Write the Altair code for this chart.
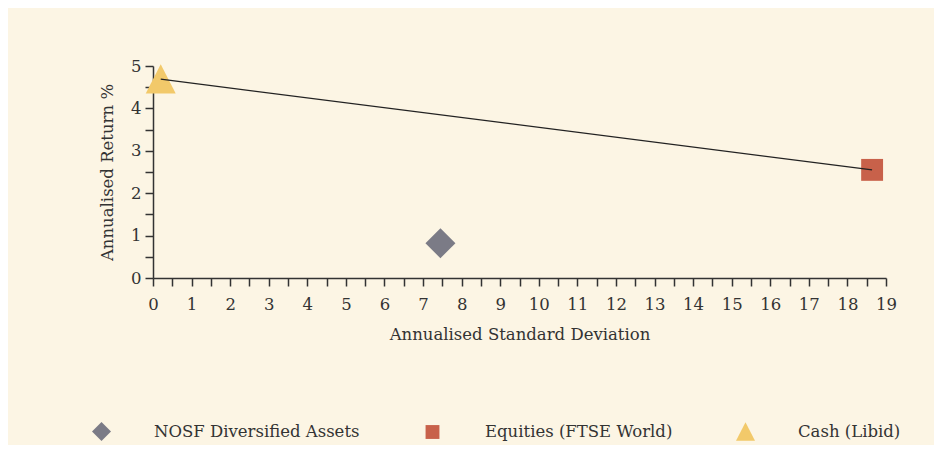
import altair as alt
import pandas as pd

names = ["NOSF Diversified Assets", "Equities (FTSE World)", "Cash (Libid)"]
std_dev = [7.45, 18.64, 0.2]
returns = [0.82, 2.55, 4.69]
colors = ["#7B7B86", "#C8614A", "#F2C96A"]
shape_paths = [
    "M0,-1L1,0L0,1L-1,0Z",
    "M-0.73,-0.73L0.73,-0.73L0.73,0.73L-0.73,0.73Z",
    "M0,-1L1,0.95L-1,0.95Z",
]
frontier = ["Cash (Libid)", "Equities (FTSE World)"]

x_ticks = [i * 0.5 for i in range(39)]
y_ticks = [i * 0.5 for i in range(11)]

df = pd.DataFrame({"name": names, "sd": std_dev, "ret": returns})

FONT = "DejaVu Serif"
FS = 16.5
INK = "#333333"
LABELS = "datum.value % 1 == 0 ? format(datum.value, 'd') : ''"

x_enc = alt.X(
    "sd:Q",
    scale=alt.Scale(domain=[0, 19], nice=False, zero=True),
    axis=alt.Axis(
        title="Annualised Standard Deviation",
        values=x_ticks,
        labelExpr=LABELS,
        grid=False,
        tickSize=8,
        labelPadding=10,
        titlePadding=14,
        labelOverlap=False,
        labelFlush=False,
    ),
)
y_enc = alt.Y(
    "ret:Q",
    scale=alt.Scale(domain=[0, 5], nice=False),
    axis=alt.Axis(
        title="Annualised Return %",
        values=y_ticks,
        labelExpr=LABELS,
        grid=False,
        tickSize=8,
        labelPadding=4,
        titlePadding=15,
        labelOverlap=False,
        labelFlush=False,
    ),
)

legend = alt.Legend(
    title=None,
    orient="none",
    legendX=-61,
    legendY=356,
    direction="horizontal",
    symbolSize=361,
    symbolStrokeWidth=0,
    labelOffset=43,
    columnPadding=63,
    labelLimit=400,
)

points = alt.Chart(df).mark_point(filled=True, size=900, opacity=1).encode(
    x=x_enc,
    y=y_enc,
    color=alt.Color("name:N", sort=names,
                    scale=alt.Scale(domain=names, range=colors), legend=legend),
    shape=alt.Shape("name:N", sort=names,
                    scale=alt.Scale(domain=names, range=shape_paths), legend=legend),
)

line = alt.Chart(df).transform_filter(
    alt.FieldOneOfPredicate(field="name", oneOf=frontier)
).mark_line(color="#222222", strokeWidth=1.3).encode(
    x=x_enc, y=y_enc, order="sd:Q"
)

chart = alt.layer(points, line).properties(
    width=733,
    height=212,
    padding={"left": 84, "top": 50, "right": 33, "bottom": 4},
    background="#FCF5E4",
).configure_view(stroke=None).configure_axis(
    domainColor=INK,
    tickColor=INK,
    labelColor=INK,
    titleColor=INK,
    labelFont=FONT,
    titleFont=FONT,
    labelFontSize=FS,
    titleFontSize=FS,
    titleFontWeight="normal",
    domainWidth=1.5,
    tickWidth=1.5,
).configure_legend(
    labelFont=FONT,
    labelFontSize=FS,
    labelColor=INK,
)

chart.save("out.html", embed_options={"renderer": "svg", "actions": False})
